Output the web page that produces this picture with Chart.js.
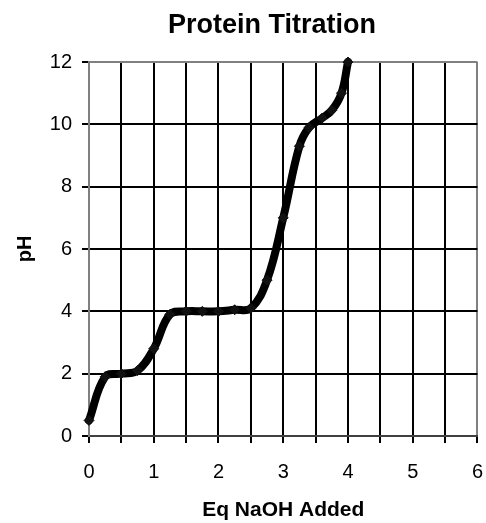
<!DOCTYPE html>
<html>
<head>
<meta charset="utf-8">
<script src="https://cdn.jsdelivr.net/npm/chart.js@4/dist/chart.umd.min.js"></script>
<style>
  html, body { margin: 0; padding: 0; background: #fff; }
  #wrap { width: 486px; height: 523px; }
</style>
</head>
<body>
<div id="wrap"><canvas id="c" width="486" height="523"></canvas></div>
<script>
const chartTitle = "Protein Titration";
const xAxisTitle = "Eq NaOH Added";
const yAxisTitle = "pH";
const eqNaOH = [0, 0.25, 0.5, 0.75, 1.0, 1.25, 1.5, 1.75, 2.0, 2.25, 2.5, 2.75, 3.0, 3.25, 3.4, 3.6, 3.75, 3.9, 4.0];
const pH     = [0.5, 1.9, 2.0, 2.1, 2.8, 3.9, 4.0, 4.0, 4.0, 4.05, 4.1, 5.0, 7.0, 9.3, 9.9, 10.2, 10.45, 11.0, 12.0];
const xMin = 0, xMax = 6, xStep = 0.5;
const yMin = 0, yMax = 12, yStep = 2;

const points = eqNaOH.map((x, i) => ({ x: x, y: pH[i] }));
const FONT = "'Liberation Sans', Arial, sans-serif";

new Chart(document.getElementById('c'), {
  type: 'scatter',
  data: {
    datasets: [{
      data: points,
      showLine: true,
      clip: false,
      borderColor: '#000',
      backgroundColor: '#000',
      borderWidth: 8,
      tension: 0.4,
      pointStyle: 'rectRot',
      pointRadius: 5,
      pointBackgroundColor: '#111',
      pointBorderColor: '#111',
      pointBorderWidth: 1,
      borderCapStyle: 'round',
      borderJoinStyle: 'round'
    }]
  },
  options: {
    responsive: false,
    animation: false,
    layout: { padding: { left: 0, right: -58, top: 0, bottom: 0 } },
    plugins: {
      legend: { display: false },
      tooltip: { enabled: false },
      title: {
        display: true,
        text: chartTitle,
        color: '#000',
        font: { family: FONT, size: 27, weight: 'bold' },
        padding: { top: 9, bottom: 20.6 }
      }
    },
    scales: {
      x: {
        type: 'linear',
        min: xMin, max: xMax,
        afterFit: s => { s.height = 87; },
        ticks: {
          stepSize: xStep,
          autoSkip: false,
          maxRotation: 0,
          color: '#000',
          padding: 3,
          font: { family: FONT, size: 20, lineHeight: 2.6 },
          callback: v => Number.isInteger(v) ? String(v) : ''
        },
        grid: {
          color: ctx => (ctx.tick && ctx.tick.value === xMax) ? '#808080' : '#000',
          lineWidth: 2,
          tickLength: 7,
          tickColor: '#000',
          drawTicks: true
        },
        border: { display: true, color: '#404040', width: 2 },
        title: {
          display: true,
          text: xAxisTitle,
          color: '#000',
          font: { family: FONT, size: 21, weight: 'bold' },
          padding: { top: 0, bottom: 0 }
        }
      },
      y: {
        type: 'linear',
        min: yMin, max: yMax,
        afterFit: s => { s.width = 89; },
        ticks: {
          stepSize: yStep,
          color: '#000',
          padding: 10,
          font: { family: FONT, size: 20 }
        },
        grid: {
          color: ctx => (ctx.tick && ctx.tick.value === yMax) ? '#808080' : '#000',
          lineWidth: 2,
          tickLength: 7,
          tickColor: '#000'
        },
        border: { display: true, color: '#808080', width: 2 },
        title: {
          display: true,
          text: yAxisTitle,
          color: '#000',
          font: { family: FONT, size: 20, weight: 'bold' },
          padding: { top: 13, bottom: 0 }
        }
      }
    }
  }
});
</script>
</body>
</html>
